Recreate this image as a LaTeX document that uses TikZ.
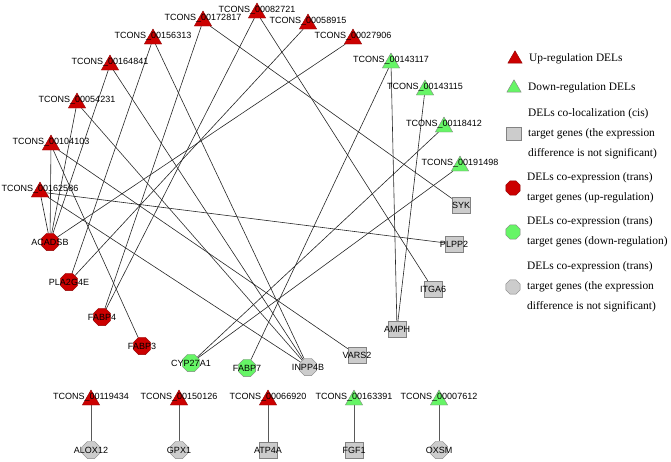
\documentclass[tikz,border=0pt]{standalone}
\usepackage{fontspec}
\setmainfont{Liberation Sans}
\newfontfamily\legfont{Liberation Serif}
\usetikzlibrary{positioning,shapes.geometric,backgrounds}
\definecolor{upred}{RGB}{204,0,0}
\definecolor{upline}{RGB}{140,0,0}
\definecolor{dngreen}{RGB}{102,245,102}
\definecolor{nsgray}{RGB}{204,204,204}
\definecolor{grline}{RGB}{130,130,130}
\newcommand\lbf{\fontsize{9}{10}\selectfont}
\newcommand\lgf{\legfont\fontsize{11.4}{20}\selectfont}
\tikzset{lab/.style={font=\lbf,inner sep=0pt}}

\begin{document}
\begin{tikzpicture}[x=1pt,y=-1pt,
    tri/.style={regular polygon,regular polygon sides=3,minimum size=20pt,inner sep=0pt,line width=0.4pt},
    oct/.style={regular polygon,regular polygon sides=8,minimum size=18.5pt,inner sep=0pt,line width=0.4pt},
    sq/.style={rectangle,minimum width=18pt,minimum height=16pt,inner sep=0pt,line width=0.4pt},
    dup/.style={tri,fill=upred,draw=upline,label={[lab,yshift=2.6pt]center:#1}},
    ddn/.style={tri,fill=dngreen,draw=grline,label={[lab,yshift=2.6pt]center:#1}},
    gup/.style={oct,fill=upred,draw=upline,label={[lab]center:#1}},
    gdn/.style={oct,fill=dngreen,draw=grline,label={[lab]center:#1}},
    gns/.style={oct,fill=nsgray,draw=grline,label={[lab]center:#1}},
    gcis/.style={sq,fill=nsgray,draw=grline,label={[lab]center:#1}},
    ln/.style={line width=0.6pt,draw=black!85},
    ln2/.style={line width=0.8pt,draw=black!65},
    lg/.style={font=\lgf,align=left,inner sep=0pt,right=14pt of #1.center}]
    \useasboundingbox (0,0) rectangle (671,461);

    % DELs, up
    \node[dup=TCONS\_00082721] (t82721) at (257,13) {};
    \node[dup=TCONS\_00172817] (t172817) at (203,21) {};
    \node[dup=TCONS\_00058915] (t58915) at (308,24) {};
    \node[dup=TCONS\_00027906] (t27906) at (353,39) {};
    \node[dup=TCONS\_00156313] (t156313) at (153,39) {};
    \node[dup=TCONS\_00164841] (t164841) at (110,65) {};
    \node[dup=TCONS\_00054231] (t54231) at (77,103) {};
    \node[dup=TCONS\_00104103] (t104103) at (51,145) {};
    \node[dup=TCONS\_00162586] (t162586) at (40,192) {};
    % DELs, down
    \node[ddn=TCONS\_00143117] (t143117) at (391,63) {};
    \node[ddn=TCONS\_00143115] (t143115) at (425,90) {};
    \node[ddn=TCONS\_00118412] (t118412) at (444,127) {};
    \node[ddn=TCONS\_00191498] (t191498) at (460,166) {};

    % target genes
    \node[gup=ACADSB] (acadsb) at (50,242) {};
    \node[gup=PLA2G4E] (pla2g4e) at (69,282) {};
    \node[gup=FABP4] (fabp4) at (102,317) {};
    \node[gup=FABP3] (fabp3) at (142,346) {};
    \node[gdn=CYP27A1] (cyp27a1) at (191,363) {};
    \node[gdn=FABP7] (fabp7) at (247,368) {};
    \node[gns=INPP4B] (inpp4b) at (308,367) {};
    \node[gcis=VARS2] (vars2) at (357,355) {};
    \node[gcis=AMPH] (amph) at (397,329) {};
    \node[gcis=ITGA6] (itga6) at (433,289) {};
    \node[gcis=PLPP2] (plpp2) at (454,244) {};
    \node[gcis=SYK] (syk) at (461,205) {};

    % pairs at the bottom
    \node[dup=TCONS\_00119434] (t119434) at (91,400) {};
    \node[dup=TCONS\_00150126] (t150126) at (179,400) {};
    \node[dup=TCONS\_00066920] (t66920) at (268,400) {};
    \node[ddn=TCONS\_00163391] (t163391) at (354,400) {};
    \node[ddn=TCONS\_00007612] (t7612) at (439,400) {};
    \node[gns=ALOX12] (alox12) at (91,450) {};
    \node[gns=GPX1] (gpx1) at (179,450) {};
    \node[gcis=ATP4A] (atp4a) at (268,450) {};
    \node[gcis=FGF1] (fgf1) at (354,450) {};
    \node[gns=OXSM] (oxsm) at (439,450) {};

    \begin{pgfonlayer}{background}
        \foreach \a/\b in {t162586/acadsb,t104103/acadsb,t54231/acadsb,t164841/acadsb,t27906/acadsb,
                t156313/pla2g4e,t58915/pla2g4e,t172817/fabp4,t82721/fabp4,t104103/fabp3,
                t162586/inpp4b,t54231/inpp4b,t164841/inpp4b,t156313/inpp4b,t104103/vars2,
                t118412/cyp27a1,t191498/cyp27a1,t143117/fabp7,t143117/amph,t143115/amph,
                t82721/itga6,t162586/plpp2,t172817/syk}
            \draw[ln] (\a) -- (\b);
        \foreach \a/\b in {t119434/alox12,t150126/gpx1,t66920/atp4a,t163391/fgf1,t7612/oxsm}
            \draw[ln2] (\a) -- (\b);
    \end{pgfonlayer}

    % legend
    \node[tri,minimum size=16.5pt,fill=upred,draw=upline] (k1) at (515,59) {};
    \node[lg=k1] {Up-regulation DELs};
    \node[tri,minimum size=16.5pt,fill=dngreen,draw=grline] (k2) at (514,88) {};
    \node[lg=k2] {Down-regulation DELs};
    \node[sq,minimum width=15pt,minimum height=13pt,fill=nsgray,draw=grline] (k3) at (514,134) {};
    \node[lg=k3] {DELs co-localization (cis)\\target genes (the expression\\difference is not significant)};
    \node[oct,minimum size=15.5pt,fill=upred,draw=upline] (k4) at (513,188) {};
    \node[lg=k4] {DELs co-expression (trans)\\target genes (up-regulation)};
    \node[oct,minimum size=15.5pt,fill=dngreen,draw=grline] (k5) at (513,232) {};
    \node[lg=k5] {DELs co-expression (trans)\\target genes (down-regulation)};
    \node[oct,minimum size=15.5pt,fill=nsgray,draw=grline] (k6) at (513,287) {};
    \node[lg=k6] {DELs co-expression (trans)\\target genes (the expression\\difference is not significant)};
\end{tikzpicture}
\end{document}
